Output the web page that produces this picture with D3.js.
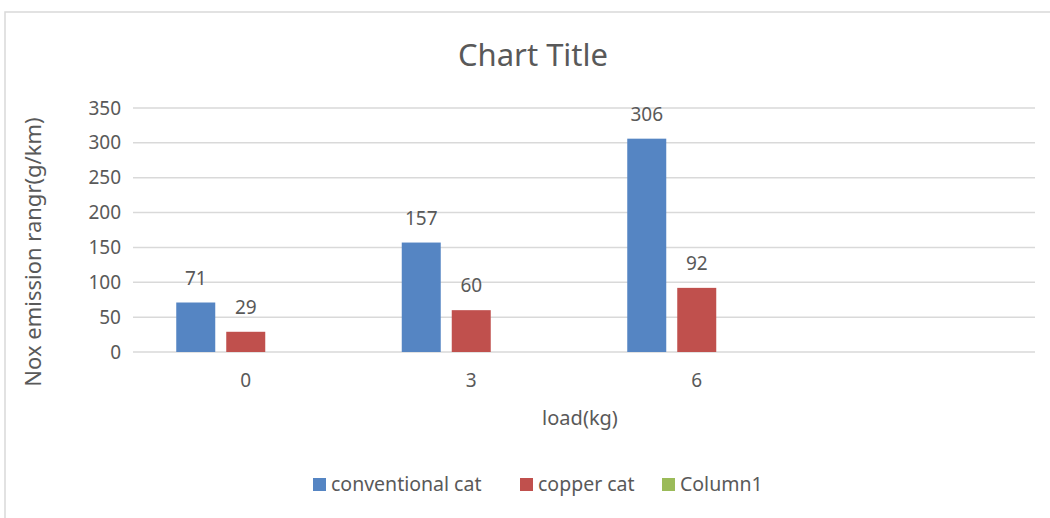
<!DOCTYPE html>
<html><head><meta charset="utf-8">
<script src="https://cdn.jsdelivr.net/npm/d3@7"></script>
<style>body{margin:0;background:#fff}svg{display:block}text{font-family:"Noto Sans",sans-serif;fill:#595959}</style>
</head><body><svg id="c" width="1050" height="518"></svg>
<script>
const categories = ["0", "3", "6", ""];
const seriesNames = ["conventional cat", "copper cat", "Column1"];
const conventional = [71, 157, 306, null];
const copper = [29, 60, 92, null];
const column1 = [null, null, null, null];
const yTicks = [0, 50, 100, 150, 200, 250, 300, 350];
const colors = ["#5585c3", "#c0504d", "#9bbb59"];

const seriesValues = [conventional, copper, column1];
const svg = d3.select("#c");
svg.append("rect").attr("x", 5).attr("y", 12).attr("width", 1100).attr("height", 600)
  .attr("fill", "#fff").attr("stroke", "#d9d9d9").attr("stroke-width", 1.5);

const L = 133, R = 1035, T = 108, B = 352;
const x0 = d3.scaleBand().domain(categories).range([L, R]).paddingInner(0.3836).paddingOuter(0.1918);
const x1 = d3.scaleBand().domain(seriesNames).range([0, x0.bandwidth()]).paddingInner(0.22).paddingOuter(0);
const y = d3.scaleLinear().domain([0, 350]).range([B, T]);

// gridlines
svg.append("g").selectAll("line").data(yTicks).join("line")
  .attr("x1", L).attr("x2", R).attr("y1", d => y(d)).attr("y2", d => y(d))
  .attr("stroke", "#d9d9d9").attr("stroke-width", 1.5);

// y axis labels
const ya = svg.append("g").attr("transform", `translate(${L - 12},0)`)
  .call(d3.axisLeft(y).tickValues(yTicks).tickSize(0).tickPadding(0));
ya.select(".domain").remove();
ya.selectAll("text").attr("font-size", 19).attr("font-family", "Noto Sans").attr("fill", "#595959");

// x axis labels
const xa = svg.append("g").attr("transform", `translate(0,${B + 21})`)
  .call(d3.axisBottom(x0).tickSize(0).tickPadding(0));
xa.select(".domain").remove();
xa.selectAll("text").attr("font-size", 19).attr("font-family", "Noto Sans").attr("fill", "#595959");

// bars
const data = [];
categories.forEach((c, i) => seriesNames.forEach((s, j) => {
  if (seriesValues[j][i] != null) data.push({c, s, v: seriesValues[j][i], j});
}));
svg.append("g").selectAll("rect").data(data).join("rect")
  .attr("x", d => x0(d.c) + x1(d.s)).attr("width", x1.bandwidth())
  .attr("y", d => y(d.v)).attr("height", d => y(0) - y(d.v))
  .attr("fill", d => colors[d.j]);
svg.append("g").selectAll("text").data(data).join("text")
  .attr("x", d => x0(d.c) + x1(d.s) + x1.bandwidth() / 2)
  .attr("y", d => y(d.v) - 18).attr("text-anchor", "middle").attr("font-size", 19)
  .text(d => d.v);

// titles
svg.append("text").attr("x", 533).attr("y", 66).attr("text-anchor", "middle").attr("font-size", 31).text("Chart Title");
svg.append("text").attr("x", 580).attr("y", 425).attr("text-anchor", "middle").attr("font-size", 20).text("load(kg)");
svg.append("text").attr("transform", `translate(41,252) rotate(-90)`).attr("text-anchor", "middle")
  .attr("font-size", 22).text("Nox emission rangr(g/km)");

// legend
const legendX = [313, 520, 662];
const lg = svg.append("g").attr("transform", "translate(0,484)");
seriesNames.forEach((s, i) => {
  lg.append("rect").attr("x", legendX[i]).attr("y", -6).attr("width", 13).attr("height", 13).attr("fill", colors[i]);
  lg.append("text").attr("x", legendX[i] + 18).attr("y", 7).attr("font-size", 19.5).text(s);
});
</script></body></html>
